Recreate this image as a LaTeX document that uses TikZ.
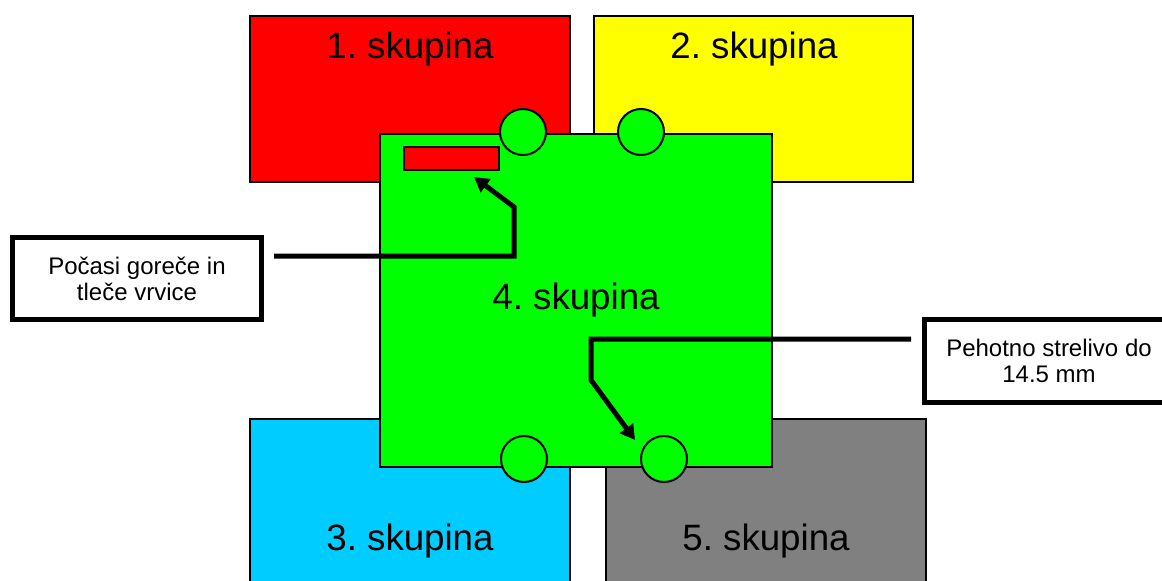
\documentclass[tikz,border=0pt]{standalone}
\usepackage{fontspec}
\setmainfont{Liberation Sans}
\usetikzlibrary{arrows.meta,fit}
\definecolor{grpred}{HTML}{FF0000}
\definecolor{grpyellow}{HTML}{FFFF00}
\definecolor{grpgreen}{HTML}{00FF00}
\definecolor{grpblue}{HTML}{00CCFF}
\definecolor{grpgray}{HTML}{808080}
\tikzset{
  grp/.style={draw,rectangle,inner sep=0pt,line width=1.2pt},
  grplabel/.style={anchor=base,inner sep=0pt,font=\fontsize{27.5}{33}\selectfont\frenchspacing},
  wheel/.style={draw,circle,fill=grpgreen,line width=1.5pt,minimum size=34.5pt,inner sep=0pt},
  note/.style={draw,fill=white,rectangle,line width=3.75pt,minimum width=186.75pt,minimum height=61.5pt,align=center,font=\fontsize{18}{19.5}\selectfont},
  pointer/.style={-{Triangle[length=11pt,width=12pt]},line width=3.75pt}
}

\begin{document}
\begin{tikzpicture}[x=0.75pt,y=-0.75pt]
\useasboundingbox (0,0) rectangle (1162,581);

% the five groups
\node[grp,fill=grpred,fit={(250,16) (570,182)}] (g1) {};
\node[grp,fill=grpyellow,fit={(594,16) (913,182)}] (g2) {};
\node[grp,fill=grpblue,fit={(250,419) (570,600)}] (g3) {};
\node[grp,fill=grpgray,fit={(606,419) (926,600)}] (g5) {};
\node[grp,fill=grpgreen,fit={(380,134) (772,467)}] (g4) {};

\node[grplabel] (t1) at (410,59) {1. skupina};
\node[grplabel] (t2) at (754,59) {2. skupina};
\node[grplabel] (t3) at (410,550) {3. skupina};
\node[grplabel] (t4) at (576,309) {4. skupina};
\node[grplabel] (t5) at (766,550) {5. skupina};

% wheels and fuse
\node[wheel] (w1) at (523,132) {};
\node[wheel] (w2) at (641,132) {};
\node[wheel] (w3) at (524,459) {};
\node[wheel] (w4) at (664,459) {};
\node[grp,fill=grpred,line width=1.5pt,fit={(404,147) (499,170)}] (fuseBox) {};

% callouts
\node[note] (fuse) at (137,278.5) {Počasi goreče in\\tleče vrvice};
\node[note,minimum height=62.25pt] (ammo) at (1049,361) {Pehotno strelivo do\\14.5 mm};

\coordinate (fuseTip) at (474,177);
\coordinate (ammoTip) at (635,440);

\draw[pointer] ([shift={(10,-22.5)}]fuse.east) -| (514,207) -- (fuseTip);
\draw[pointer] ([shift={(-11,-22)}]ammo.west) -| (591,380) -- (ammoTip);

\end{tikzpicture}
\end{document}
